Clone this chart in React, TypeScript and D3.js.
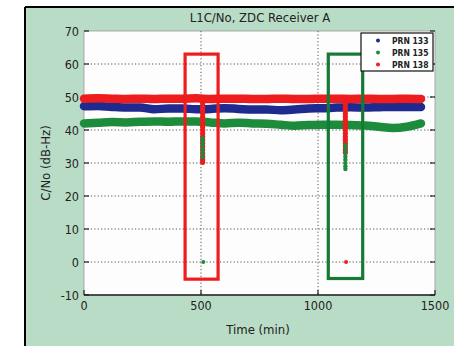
import React from 'react';
import * as d3 from 'd3';

const times = [0, 60, 120, 180, 240, 300, 360, 420, 480, 540, 600, 660, 720, 780, 840, 900, 960, 1020, 1080, 1140, 1200, 1260, 1320, 1380, 1440];
const prn133 = [47.2, 47.3, 47.0, 46.8, 46.8, 46.3, 46.5, 46.5, 46.3, 46.4, 46.6, 46.4, 46.2, 46.2, 46.0, 46.2, 46.5, 46.6, 46.8, 46.9, 46.8, 46.9, 47.0, 47.0, 47.0];
const prn135 = [42.0, 42.2, 42.4, 42.3, 42.5, 42.6, 42.5, 42.6, 42.6, 42.3, 42.0, 42.2, 42.0, 41.9, 41.6, 41.3, 41.5, 41.6, 41.6, 41.5, 41.4, 41.0, 40.6, 41.0, 42.0];
const prn138 = [49.5, 49.6, 49.5, 49.4, 49.5, 49.4, 49.5, 49.5, 49.6, 49.4, 49.5, 49.5, 49.4, 49.4, 49.5, 49.4, 49.4, 49.5, 49.5, 49.4, 49.5, 49.4, 49.4, 49.5, 49.4];

// dropouts (values sampled down each spike)
const dip1Time = 507;
const dip1Red = [48, 47, 46, 45, 44, 43, 42, 41, 40, 39, 38, 37, 36, 35, 34, 33, 32, 31, 30.2];
const dip1Green = [37.5, 36.5, 35.5, 34.2, 33, 31.8];
const dip2Time = 1117;
const dip2Red = [48, 47, 46, 45, 44, 43, 42, 41, 40, 39, 38, 37, 36, 35, 34, 33.2];
const dip2Green = [35.5, 34.5, 33.2, 32, 31, 30, 29, 28.2];
const zeroGreen = [{ t: 510, v: 0 }];
const zeroRed = [{ t: 1120, v: 0 }];

const boxes = [
  { t0: 432, t1: 573, v0: -5.2, v1: 63, color: '#ee1c1c' },
  { t0: 1044, t1: 1191, v0: -5, v1: 63, color: '#157a35' },
];

const xTicks = [0, 500, 1000, 1500];
const yTicks = [-10, 0, 10, 20, 30, 40, 50, 60, 70];
const legendItems = ['PRN 133', 'PRN 135', 'PRN 138'];
const colors = ['#1e2a8e', '#1c8c3c', '#ee1c1c'];

const W = 454, H = 346;
const font = '"DejaVu Sans Condensed", "DejaVu Sans", sans-serif';

export default function App() {
  const x = d3.scaleLinear().domain([0, 1500]).range([84, 435]);
  const y = d3.scaleLinear().domain([-10, 70]).range([295, 31]);
  const line = d3.line<number>().x((_, i) => x(times[i])).y(d => y(d)).curve(d3.curveMonotoneX);
  const series = [prn133, prn135, prn138];

  return (
    <svg width={W} height={H} style={{ position: 'absolute', left: 0, top: 0 }} fontFamily={font}>
      <rect x={0} y={0} width={W} height={H} fill="#fff" />
      <rect x={25} y={7} width={W - 25} height={H - 7} fill="#b9dcc7" />
      <line x1={25} x2={W} y1={7} y2={7} stroke="#000" strokeWidth={2} />
      <line x1={25} x2={25} y1={7} y2={H} stroke="#000" strokeWidth={2} />

      <text x={260} y={22} textAnchor="middle" fontSize={13} fill="#222">L1C/No, ZDC Receiver A</text>

      <rect x={x(0)} y={y(70)} width={x(1500) - x(0)} height={y(-10) - y(70)} fill="#fdfdfd" stroke="#9a9a9a" strokeWidth={0.8} />

      {yTicks.filter(v => v > -10 && v < 70).map(v => (
        <line key={'gy' + v} x1={x(0)} x2={x(1500)} y1={y(v)} y2={y(v)} stroke="#555" strokeWidth={1} strokeDasharray="1.2,2.2" />
      ))}
      {xTicks.filter(t => t > 0 && t < 1500).map(t => (
        <line key={'gx' + t} x1={x(t)} x2={x(t)} y1={y(70)} y2={y(-10)} stroke="#555" strokeWidth={1} strokeDasharray="1.2,2.2" />
      ))}

      {yTicks.map(v => (
        <g key={'ty' + v}>
          <line x1={x(0)} x2={x(0) + 5} y1={y(v)} y2={y(v)} stroke="#222" strokeWidth={1.2} />
          <line x1={x(1500) - 5} x2={x(1500)} y1={y(v)} y2={y(v)} stroke="#222" strokeWidth={1.2} />
          <text x={x(0) - 5} y={y(v) + 4.5} textAnchor="end" fontSize={12.5} fill="#222">{v}</text>
        </g>
      ))}
      {xTicks.map(t => (
        <g key={'tx' + t}>
          <line x1={x(t)} x2={x(t)} y1={y(-10)} y2={y(-10) - 5} stroke="#222" strokeWidth={1.2} />
          <text x={x(t)} y={y(-10) + 15} textAnchor="middle" fontSize={12.5} fill="#222">{t}</text>
        </g>
      ))}
      <line x1={x(0)} x2={x(1500)} y1={y(-10)} y2={y(-10)} stroke="#222" strokeWidth={1.6} />

      <text x={258} y={334} textAnchor="middle" fontSize={13} fill="#222">Time (min)</text>
      <text transform={`translate(50,${y(30)}) rotate(-90)`} textAnchor="middle" fontSize={13} fill="#222">C/No (dB-Hz)</text>

      {series.map((s, i) => (
        <path key={'s' + i} d={line(s) || ''} fill="none" stroke={colors[i]} strokeWidth={8.5} strokeLinecap="round" />
      ))}

      {dip1Red.map((v, i) => <circle key={'d1r' + i} cx={x(dip1Time)} cy={y(v)} r={2.6} fill={colors[2]} />)}
      {dip1Green.map((v, i) => <circle key={'d1g' + i} cx={x(dip1Time)} cy={y(v)} r={2.2} fill={colors[1]} />)}
      {dip2Red.map((v, i) => <circle key={'d2r' + i} cx={x(dip2Time)} cy={y(v)} r={2.6} fill={colors[2]} />)}
      {dip2Green.map((v, i) => <circle key={'d2g' + i} cx={x(dip2Time)} cy={y(v)} r={2.2} fill={colors[1]} />)}
      {zeroGreen.map((p, i) => <circle key={'zg' + i} cx={x(p.t)} cy={y(p.v)} r={2} fill={colors[1]} />)}
      {zeroRed.map((p, i) => <circle key={'zr' + i} cx={x(p.t)} cy={y(p.v)} r={2} fill={colors[2]} />)}

      {boxes.map((b, i) => (
        <rect key={'b' + i} x={x(b.t0)} y={y(b.v1)} width={x(b.t1) - x(b.t0)} height={y(b.v0) - y(b.v1)} fill="none" stroke={b.color} strokeWidth={3.2} />
      ))}

      <rect x={361} y={33} width={72} height={38} fill="#fff" stroke="#111" strokeWidth={1.2} />
      {legendItems.map((name, i) => (
        <g key={name}>
          <circle cx={378} cy={40.5 + i * 12} r={2} fill={colors[i]} />
          <text x={392} y={43.8 + i * 12} fontSize={8.5} fontWeight="bold" fill="#222">{name}</text>
        </g>
      ))}
    </svg>
  );
}
